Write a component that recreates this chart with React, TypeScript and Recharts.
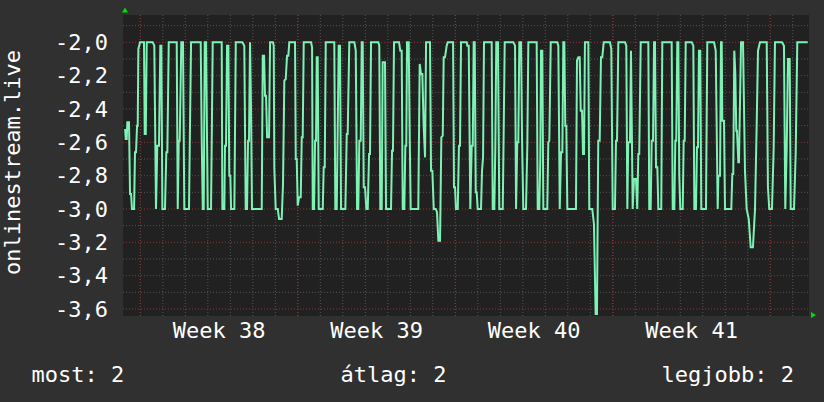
import { LineChart, Line, XAxis, YAxis, CartesianGrid } from 'recharts'

// hours since Monday 00:00 of week 38, value
const week37: [number, number][] = [
  [-16.3, -2.52], [-15.6, -2.58], [-14.5, -2.58], [-13.9, -2.48], [-12.1, -2.48], [-11.0, -2.91], [-9.9, -2.91],
  [-8.9, -3.0], [-6.7, -3.0], [-5.7, -2.66], [-4.6, -2.66], [-3.5, -2.5], [-2.8, -2.5], [-2.1, -2.04], [-0.3, -2.0],
]
const week38: [number, number][] = [
  [3.9, -2.0], [4.7, -2.55], [5.8, -2.55], [6.8, -2.0], [13.2, -2.0], [14.9, -2.02], [16.7, -3.0], [18.1, -2.62],
  [19.9, -2.62], [21.3, -2.02], [22.4, -2.02], [23.5, -3.0], [26.3, -3.0], [27.7, -2.66], [28.8, -2.66], [30.3, -2.0],
  [38.8, -2.0], [39.9, -3.0], [41.0, -2.59], [42.0, -2.59], [43.7, -2.0], [45.5, -2.0], [46.9, -3.0], [51.9, -3.0],
  [53.0, -2.49], [54.1, -2.0], [64.4, -2.0], [65.5, -2.59], [66.6, -3.0], [67.6, -3.0], [68.7, -2.0], [70.1, -2.0],
  [71.9, -3.0], [75.4, -3.0], [76.2, -2.57], [77.2, -2.0], [86.8, -2.0], [87.5, -3.0], [89.6, -3.0], [90.3, -2.62],
  [91.4, -2.62], [92.5, -2.02], [93.9, -2.02], [94.9, -2.8], [96.0, -2.8], [96.8, -3.0], [100.3, -3.0], [101.8, -2.0],
  [108.8, -2.0], [110.9, -2.02], [112.4, -3.0], [113.8, -3.0], [114.9, -2.59], [115.9, -2.59], [117.0, -2.0],
  [118.1, -2.4], [119.1, -3.0], [129.5, -3.0], [130.6, -2.08], [132.0, -2.08], [133.0, -2.32], [134.1, -2.32],
  [135.2, -2.57], [137.3, -2.57], [138.4, -2.0], [141.5, -2.0], [142.3, -2.02], [142.9, -2.75], [144.4, -3.0],
  [146.6, -3.0], [148.0, -3.06], [150.8, -3.06], [152.2, -2.85], [153.6, -2.23], [155.1, -2.22], [156.5, -2.08],
  [157.9, -2.08], [158.9, -2.0], [165.0, -2.0], [165.8, -2.7], [166.8, -2.7], [167.9, -2.98],
]
const week39: [number, number][] = [
  [169.3, -2.93], [171.1, -2.93], [172.2, -2.57], [173.2, -2.57], [174.3, -2.0], [182.1, -2.0], [183.2, -2.03],
  [183.9, -3.0], [185.3, -3.0], [186.4, -2.59], [187.4, -2.59], [188.2, -2.09], [189.2, -2.09], [190.3, -3.0],
  [194.6, -3.0], [195.6, -2.75], [196.7, -2.75], [197.8, -2.0], [206.9, -2.0], [208.0, -3.0], [209.5, -3.0],
  [211.6, -2.02], [213.0, -2.02], [214.1, -3.0], [218.7, -3.0], [220.2, -2.55], [221.2, -2.55], [222.9, -2.0],
  [228.3, -2.0], [229.8, -2.05], [231.2, -3.0], [232.5, -3.0], [233.6, -2.59], [235.1, -2.59], [236.2, -2.0],
  [237.2, -2.0], [238.3, -2.87], [239.7, -2.87], [241.1, -3.0], [242.6, -3.0], [244.0, -2.67], [245.0, -2.67],
  [246.1, -2.0], [253.9, -2.0], [254.9, -2.02], [256.0, -3.0], [257.5, -3.0], [258.5, -2.12], [261.0, -2.12],
  [262.1, -3.0], [267.4, -3.0], [268.5, -2.65], [269.5, -2.65], [270.6, -2.0], [276.0, -2.0], [277.3, -2.05],
  [278.8, -2.05], [279.9, -3.0], [281.6, -3.0], [282.7, -2.62], [283.7, -2.62], [284.5, -2.0], [286.3, -2.0],
  [287.4, -2.58], [288.4, -3.0], [296.5, -3.0], [298.0, -2.13], [299.4, -2.19], [300.8, -2.19], [302.3, -2.51],
  [303.7, -2.69], [304.8, -2.0], [309.0, -2.0], [310.1, -2.77], [311.5, -2.77], [313.0, -3.0], [315.1, -3.0],
  [316.5, -3.02], [317.9, -3.19], [319.7, -3.19], [321.1, -2.57], [322.6, -2.56], [323.6, -2.09], [325.0, -2.09],
  [326.8, -2.02], [327.9, -2.0], [333.6, -2.0], [334.6, -2.87], [335.7, -2.87],
]
const week40: [number, number][] = [
  [336.7, -3.0], [338.6, -3.0], [339.9, -2.62], [341.0, -2.62], [342.1, -2.0], [348.2, -2.0], [348.8, -2.02],
  [350.3, -2.02], [352.0, -3.0], [353.5, -2.62], [354.6, -2.62], [355.6, -2.0], [356.7, -2.0], [357.8, -2.9],
  [358.8, -2.9], [359.9, -3.0], [363.4, -3.0], [364.5, -2.77], [365.6, -2.69], [366.6, -2.0], [374.8, -2.0],
  [375.9, -3.0], [377.6, -3.0], [378.7, -2.62], [379.7, -2.0], [381.5, -2.0], [382.9, -3.0], [386.6, -3.0],
  [387.6, -2.53], [388.7, -2.0], [397.9, -2.0], [399.7, -2.02], [400.8, -3.0], [402.1, -2.6], [403.2, -2.6],
  [404.3, -2.0], [406.1, -2.0], [407.2, -2.58], [408.5, -3.0], [411.4, -3.0], [412.8, -2.62], [413.9, -2.0],
  [422.8, -2.0], [423.9, -3.0], [425.6, -3.0], [426.7, -2.69], [427.4, -2.05], [428.8, -2.05], [429.9, -3.0],
  [434.1, -3.0], [435.2, -2.6], [436.3, -2.59], [437.8, -2.0], [444.8, -2.0], [445.9, -2.02], [447.4, -3.0],
  [448.8, -2.66], [450.2, -2.66], [451.2, -2.0], [452.3, -2.0], [453.3, -2.5], [454.4, -2.5], [455.5, -3.0],
  [464.7, -3.0], [465.8, -2.11], [467.2, -2.09], [468.7, -2.09], [469.8, -2.41], [471.2, -2.41], [472.2, -2.67],
  [473.3, -2.67], [474.3, -2.0], [477.9, -2.0], [478.9, -3.0], [482.1, -3.0], [483.9, -3.09], [485.7, -3.63],
  [487.1, -3.63], [488.5, -2.59], [490.0, -2.59], [491.4, -2.09], [492.8, -2.09], [494.3, -2.0], [501.0, -2.0],
  [502.4, -2.04], [503.9, -3.0],
]
const week41: [number, number][] = [
  [506.3, -3.0], [507.4, -2.59], [508.5, -2.59], [509.9, -2.0], [517.0, -2.0], [518.4, -2.02], [519.5, -3.0],
  [520.5, -2.6], [522.3, -2.6], [523.4, -2.05], [525.2, -3.0], [526.6, -2.82], [528.7, -2.82], [530.1, -3.0],
  [531.2, -2.67], [532.2, -2.67], [533.8, -2.0], [541.9, -2.0], [542.9, -3.0], [544.4, -3.0], [545.5, -2.59],
  [546.9, -2.59], [548.0, -2.0], [549.0, -2.0], [550.1, -2.75], [551.5, -2.75], [552.6, -3.0], [555.7, -3.0],
  [556.8, -2.0], [566.8, -2.0], [567.9, -3.0], [569.6, -3.0], [570.7, -2.59], [571.7, -2.59], [572.8, -2.0],
  [573.9, -2.0], [574.9, -2.8], [576.0, -3.0], [578.6, -3.0], [579.6, -2.59], [580.7, -2.59], [581.8, -2.0],
  [588.2, -2.0], [589.9, -2.02], [591.0, -3.0], [592.7, -3.0], [593.8, -2.63], [594.9, -2.63], [595.9, -2.05],
  [597.3, -2.05], [598.4, -3.0], [603.4, -3.0], [604.8, -2.0], [612.0, -2.0], [613.8, -2.05], [615.9, -3.0],
  [616.6, -2.8], [618.4, -2.8], [619.4, -2.0], [620.2, -2.0], [620.8, -2.47], [622.6, -2.47], [623.7, -3.0],
  [630.4, -3.0], [631.5, -2.79], [632.5, -2.79], [633.6, -2.05], [634.7, -2.19], [635.7, -2.53], [636.5, -2.53],
  [637.9, -2.72], [638.6, -2.72], [640.8, -2.0], [642.9, -2.0], [645.0, -2.77], [646.8, -3.0], [649.0, -3.06],
  [651.1, -3.23], [653.5, -3.23], [655.7, -3.0], [657.5, -2.49], [658.9, -2.05], [661.0, -2.0], [668.2, -2.0],
  [669.5, -2.87], [670.9, -3.0],
]
const week42: [number, number][] = [
  [673.8, -3.0], [675.6, -2.64], [677.0, -2.0], [684.5, -2.0], [686.6, -2.02], [688.0, -3.0], [689.5, -2.64],
  [690.9, -2.1], [692.7, -2.1], [693.8, -3.0], [697.3, -3.0], [699.1, -2.67], [700.8, -2.0], [711.9, -2.0],
]

const yTicks = [-3.6, -3.4, -3.2, -3.0, -2.8, -2.6, -2.4, -2.2, -2.0]
const yMinor = [-3.5, -3.3, -3.1, -2.9, -2.7, -2.5, -2.3, -2.1, -1.9]
const weekLabels = ['Week 38', 'Week 39', 'Week 40', 'Week 41']
const weekCenters = [84, 252, 420, 588]
const weekStarts = [0, 168, 336, 504, 672]
const dayStarts = Array.from({ length: 30 }, (_, i) => i * 24)

const legendMost = 'most: 2'
const legendAvg = 'átlag: 2'
const legendMax = 'legjobb: 2'
const yTitle = 'onlinestream.live'

const data = [...week37, ...week38, ...week39, ...week40, ...week41, ...week42].map(([h, v]) => ({ h, v }))

const FONT = '"DejaVu Sans Mono", monospace'
const tickStyle = { fill: '#ffffff', fontSize: 22, fontFamily: FONT }

export default function App() {
  return (
    <div style={{ position: 'absolute', left: 0, top: 0, width: 824, height: 402, background: '#303030' }}>
      <LineChart width={824} height={402} data={data} margin={{ top: 15, right: 15, bottom: 0, left: 0 }}>
        <CartesianGrid
          fill="#212121"
          stroke="#565656"
          strokeDasharray="1 2"
          horizontalValues={yMinor}
          verticalValues={dayStarts}
        />
        <CartesianGrid
          stroke="#8c3636"
          strokeDasharray="1 2"
          horizontalValues={yTicks}
          verticalValues={weekStarts}
        />
        <XAxis
          type="number"
          dataKey="h"
          domain={[-18.5, 713.3]}
          allowDataOverflow
          ticks={weekCenters}
          interval={0}
          tickFormatter={(_, i) => weekLabels[i]}
          height={86}
          axisLine={false}
          tickLine={false}
          tickSize={0}
          tickMargin={6}
          tick={tickStyle}
        />
        <YAxis
          type="number"
          domain={[-3.642, -1.836]}
          allowDataOverflow
          ticks={yTicks}
          interval={0}
          tickFormatter={(v) => v.toFixed(1).replace('.', ',')}
          width={123}
          axisLine={false}
          tickLine={false}
          tickSize={0}
          tickMargin={15}
          tick={tickStyle}
        />
        <Line
          type="linear"
          dataKey="v"
          stroke="#7df2b5"
          strokeWidth={2}
          dot={false}
          isAnimationActive={false}
        />
      </LineChart>
      <svg
        width={824}
        height={402}
        style={{ position: 'absolute', left: 0, top: 0, pointerEvents: 'none' }}
        fontFamily={FONT}
        fontSize={22}
        fill="#ffffff"
      >
        <text x={19.5} y={162.5} textAnchor="middle" transform="rotate(-90 19.5 162.5)">
          {yTitle}
        </text>
        <text x={31.5} y={382}>{legendMost}</text>
        <text x={393.5} y={382} textAnchor="middle">{legendAvg}</text>
        <text x={794} y={382} textAnchor="end">{legendMax}</text>
        <polygon points="125,7.5 122,12.5 128,12.5" fill="#00dd00" />
        <polygon points="816,315 811,312 811,318" fill="#00dd00" />
      </svg>
    </div>
  )
}
